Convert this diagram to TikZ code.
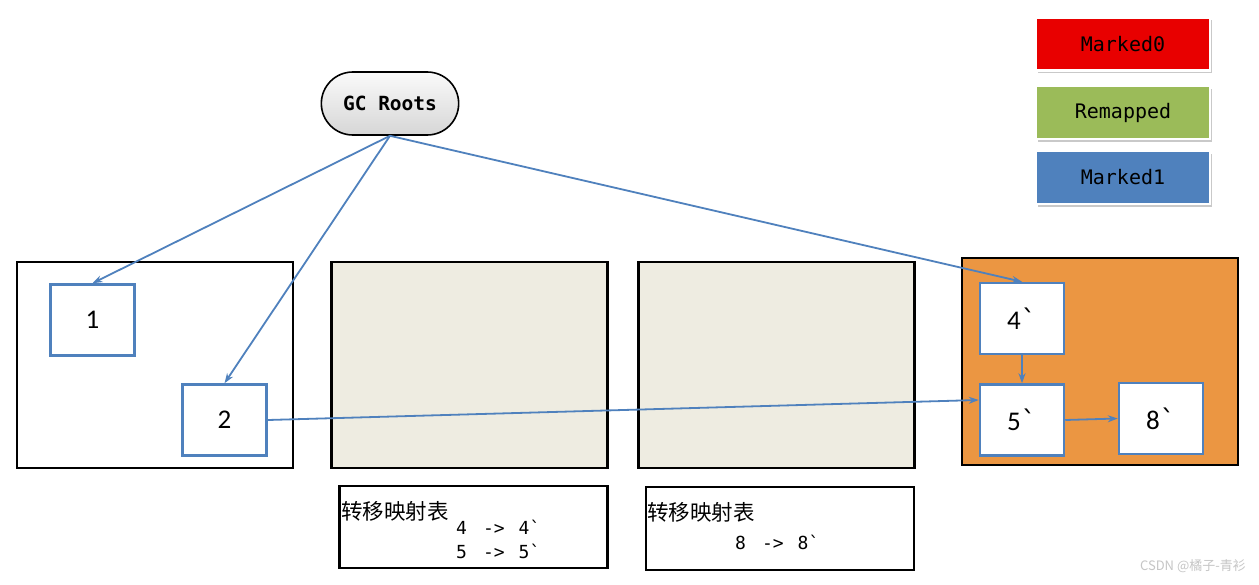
\documentclass[tikz,border=0pt]{standalone}
\usepackage{fontspec}
\setmainfont{Carlito}
\setmonofont{DejaVu Sans Mono}
\newfontfamily\cjk{Noto Sans CJK SC}
\usetikzlibrary{arrows.meta,shapes.misc,shadows}
\definecolor{boxblue}{HTML}{4F81BD}
\definecolor{mred}{HTML}{E80000}
\definecolor{mgreen}{HTML}{9BBB59}
\definecolor{morange}{HTML}{EB9642}
\definecolor{mbeige}{HTML}{EEECE1}
\tikzset{
  region/.style={draw=black, line width=2.8pt, minimum width=276pt, minimum height=206pt, inner sep=0pt},
  objbox/.style={draw=boxblue, line width=2.5pt, fill=white, minimum width=84pt, minimum height=71pt, inner sep=0pt, font=\fontsize{27}{30}\selectfont},
  legendbox/.style={draw=white, line width=2.5pt, minimum width=174pt, minimum height=53pt, inner sep=0pt, font=\ttfamily\fontsize{20}{22}\selectfont, drop shadow={shadow xshift=1.5pt, shadow yshift=-2.5pt, fill=black!35, opacity=0.6}},
  tablebox/.style={draw=black, line width=2.5pt, minimum width=268pt, minimum height=82pt, inner sep=0pt},
  ref/.style={draw=boxblue, line width=1.8pt, -{Stealth[length=10pt,width=7pt]}},
  tabtext/.style={anchor=west, inner sep=0pt, font=\ttfamily\fontsize{18}{20}\selectfont},
  title/.style={anchor=west, inner sep=0pt, font=\cjk\fontsize{21.5}{23}\selectfont}
}
\newcommand{\gr}{{\ttfamily`}}
\newcommand{\arr}[2]{#1\hspace{16pt}->\hspace{14pt}#2`}
\begin{document}
\begin{tikzpicture}[x=1pt,y=-1pt]
\useasboundingbox (0,0) rectangle (1259,584);
\fill[white] (0,0) rectangle (1259,584);

% GC Roots
\node[rounded rectangle, draw=black, line width=1.6pt, top color=gray!4, bottom color=gray!32,
      minimum width=144pt, minimum height=63pt, font=\ttfamily\bfseries\fontsize{19.5}{21}\selectfont] (gc) at (390,103.5) {GC Roots};

% legend
\node[legendbox, fill=mred] (m0) at (1123,44) {Marked0};
\node[legendbox, fill=mgreen] (rm) at (1123,112.5) {Remapped};
\node[legendbox, fill=boxblue] (m1) at (1123,177.5) {Marked1};

% regions
\node[region, fill=white] (r1) at (155,365) {};
\node[region, fill=mbeige] (r2) at (469.5,365) {};
\node[region, fill=mbeige] (r3) at (776.5,365) {};
\node[region, fill=morange, minimum height=207pt] (r4) at (1100,361.5) {};

% objects
\node[objbox] (b1) at (92.5,320) {1};
\node[objbox] (b2) at (224.5,420) {2};
\node[objbox] (b4) at (1022,318.5) {4\gr};
\node[objbox] (b5) at (1022,420) {5\gr};
\node[objbox] (b8) at (1161,418.5) {8\gr};

% tables
\node[tablebox] (t1) at (473.5,527) {};
\node[title] (t1h) at (341,511) {转移映射表};
\node[tabtext] (t1a) at (456,527) {\arr{4}{4}};
\node[tabtext] (t1b) at (456,551) {\arr{5}{5}};
\node[tablebox, minimum height=83pt] (t2) at (780,528.5) {};
\node[title] (t2h) at (647,512) {转移映射表};
\node[tabtext] (t2a) at (735,542) {\arr{8}{8}};

% connectors
\draw[ref] (gc.south) -- (b1.north);
\draw[ref] (gc.south) -- (b2.north);
\draw[ref] (gc.south) -- (b4.north);
\draw[ref] (b2.east) -- ([yshift=20pt]b5.west);
\draw[ref] (b4.south) -- (b5.north);
\draw[ref] (b5.east) -- (b8.west);

% watermark
\node[anchor=east, inner sep=0pt, text=gray!45, font=\cjk\fontsize{13}{15}\selectfont] (wm) at (1246,566) {CSDN @橘子-青衫};
\end{tikzpicture}
\end{document}
